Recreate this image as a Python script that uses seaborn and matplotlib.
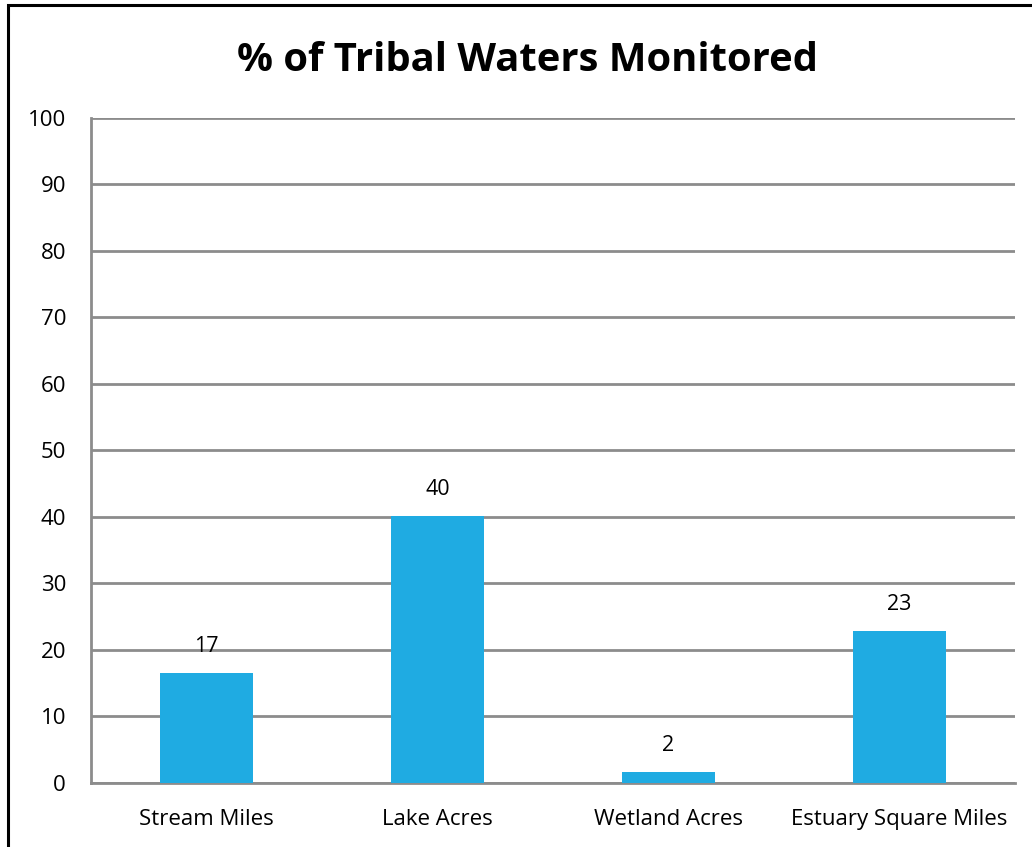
import matplotlib
matplotlib.use('Agg')
import matplotlib.pyplot as plt
import matplotlib.patches as mpatches
import pandas as pd
import seaborn as sns

# data
categories = ['Stream Miles', 'Lake Acres', 'Wetland Acres', 'Estuary Square Miles']
pct_monitored = [16.6, 40.2, 1.7, 22.9]
bar_labels = ['17', '40', '2', '23']
y_ticks = [0, 10, 20, 30, 40, 50, 60, 70, 80, 90, 100]

BAR_COLOR = '#1FABE2'
GRID_COLOR = '#8C8C8C'

sns.set_style('white')
plt.rcParams['font.family'] = ['Open Sans', 'DejaVu Sans']
plt.rcParams['text.color'] = 'black'
plt.rcParams['xtick.color'] = 'black'
plt.rcParams['ytick.color'] = 'black'

df = pd.DataFrame({'Category': categories, 'Percent': pct_monitored})

fig = plt.figure(figsize=(10.32, 8.47), dpi=100)
ax = fig.add_axes([0.0882, 0.0756, 0.8953, 0.7851])

sns.barplot(data=df, x='Category', y='Percent', color=BAR_COLOR,
            width=0.40, saturation=1, linewidth=0, ax=ax, zorder=3)
ax.bar_label(ax.containers[0], labels=bar_labels, padding=11, fontsize=15.5,
             color='black')

ax.set_ylim(0, 100)
ax.set_yticks(y_ticks)
ax.yaxis.grid(True, color=GRID_COLOR, linewidth=2, zorder=0)
ax.set_axisbelow(True)
ax.tick_params(axis='y', length=0, labelsize=16, pad=18)
ax.tick_params(axis='x', length=0, labelsize=16, pad=19)
ax.set_xlabel(''); ax.set_ylabel('')
for side in ['top', 'right']:
    ax.spines[side].set_visible(False)
for side in ['left', 'bottom']:
    ax.spines[side].set_color(GRID_COLOR)
    ax.spines[side].set_linewidth(2)

fig.text(0.511, 0.929, '% of Tribal Waters Monitored', ha='center', va='center',
         fontsize=28.8, fontweight='bold')

# black frame around the chart (cut at right and bottom edges)
fig.patches.append(mpatches.Rectangle((8 / 1032, -0.05), 1.1, 1 - 5 / 847 + 0.05,
                                      transform=fig.transFigure, fill=False,
                                      edgecolor='black', linewidth=2.2))

plt.savefig('out.png', dpi=100)
plt.close()
